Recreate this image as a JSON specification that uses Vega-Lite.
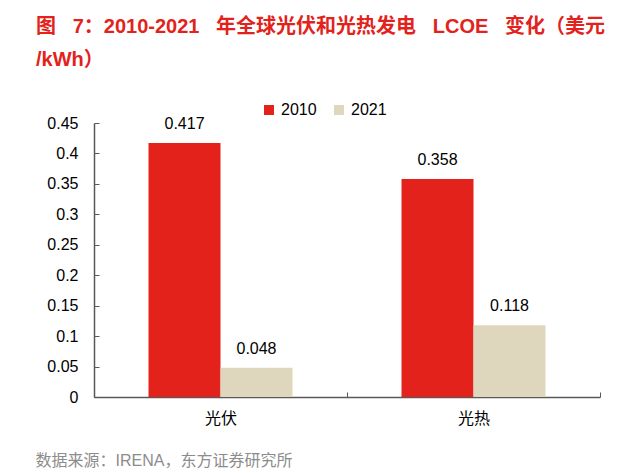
{
  "$schema": "https://vega.github.io/schema/vega-lite/v6.json",
  "width": 506,
  "height": 274,
  "autosize": {"type": "none"},
  "padding": {"left": 94, "top": 123, "right": 38, "bottom": 76},
  "background": "white",
  "config": {
    "view": {"stroke": null},
    "font": "Liberation Sans, Noto Sans CJK SC",
    "legend": {"padding": 0}
  },
  "title": {
    "text": ["图\u00a0\u00a0 7：2010-2021\u00a0\u00a0 年全球光伏和光热发电\u00a0\u00a0 LCOE\u00a0\u00a0 变化（美元", "/kWh）"],
    "anchor": "start",
    "frame": "group",
    "dx": -58,
    "offset": 32,
    "fontSize": 20,
    "fontWeight": "bold",
    "color": "#E3221B",
    "lineHeight": 33,
    "font": "Liberation Sans, Noto Sans CJK SC"
  },
  "data": {
    "values": [
      {"type": "光伏", "year": "2010", "value": 0.417},
      {"type": "光伏", "year": "2021", "value": 0.048},
      {"type": "光热", "year": "2010", "value": 0.358},
      {"type": "光热", "year": "2021", "value": 0.118}
    ]
  },
  "encoding": {
    "x": {
      "field": "type",
      "type": "nominal",
      "sort": ["光伏", "光热"],
      "scale": {"paddingInner": 0, "paddingOuter": 0},
      "axis": {
        "title": "数据来源：IRENA，东方证券研究所",
        "titleX": -59,
        "titleY": 68,
        "titleAlign": "left",
        "titleBaseline": "alphabetic",
        "titleFontSize": 16,
        "titleFontWeight": "normal",
        "titleColor": "#8C8C8C",
        "labelAngle": 0,
        "labelFontSize": 16,
        "labelColor": "#000000",
        "labelPadding": 18,
        "tickBand": "extent",
        "tickSize": -5,
        "domainColor": "#595959",
        "tickColor": "#595959",
        "domainWidth": 1.5,
        "tickWidth": 1
      }
    },
    "xOffset": {
      "field": "year",
      "type": "nominal",
      "sort": ["2010", "2021"],
      "scale": {"paddingInner": 0, "paddingOuter": 0.757}
    },
    "y": {
      "field": "value",
      "type": "quantitative",
      "scale": {"domain": [0, 0.45], "nice": false},
      "axis": {
        "title": null,
        "values": [0, 0.05, 0.1, 0.15, 0.2, 0.25, 0.3, 0.35, 0.4, 0.45],
        "format": ".2~f",
        "grid": false,
        "labelFontSize": 16,
        "labelColor": "#000000",
        "labelPadding": 21,
        "tickSize": -5,
        "domainColor": "#595959",
        "tickColor": "#595959",
        "domainWidth": 1.5,
        "tickWidth": 1
      }
    }
  },
  "layer": [
    {
      "mark": {"type": "bar"},
      "encoding": {
        "color": {
          "field": "year",
          "type": "nominal",
          "scale": {"domain": ["2010", "2021"], "range": ["#E3221B", "#DFD6BE"]},
          "legend": {
            "orient": "none",
            "direction": "horizontal",
            "legendX": 167,
            "legendY": -21,
            "title": null,
            "symbolType": "square",
            "symbolSize": 100,
            "symbolStrokeWidth": 0,
            "labelFontSize": 16,
            "labelColor": "#000000",
            "labelOffset": 4,
            "columnPadding": 14
          }
        }
      }
    },
    {
      "mark": {"type": "text", "baseline": "alphabetic", "dy": -14, "fontSize": 16, "color": "#000000"},
      "encoding": {"text": {"field": "value", "type": "quantitative", "format": ".3f"}}
    }
  ]
}
